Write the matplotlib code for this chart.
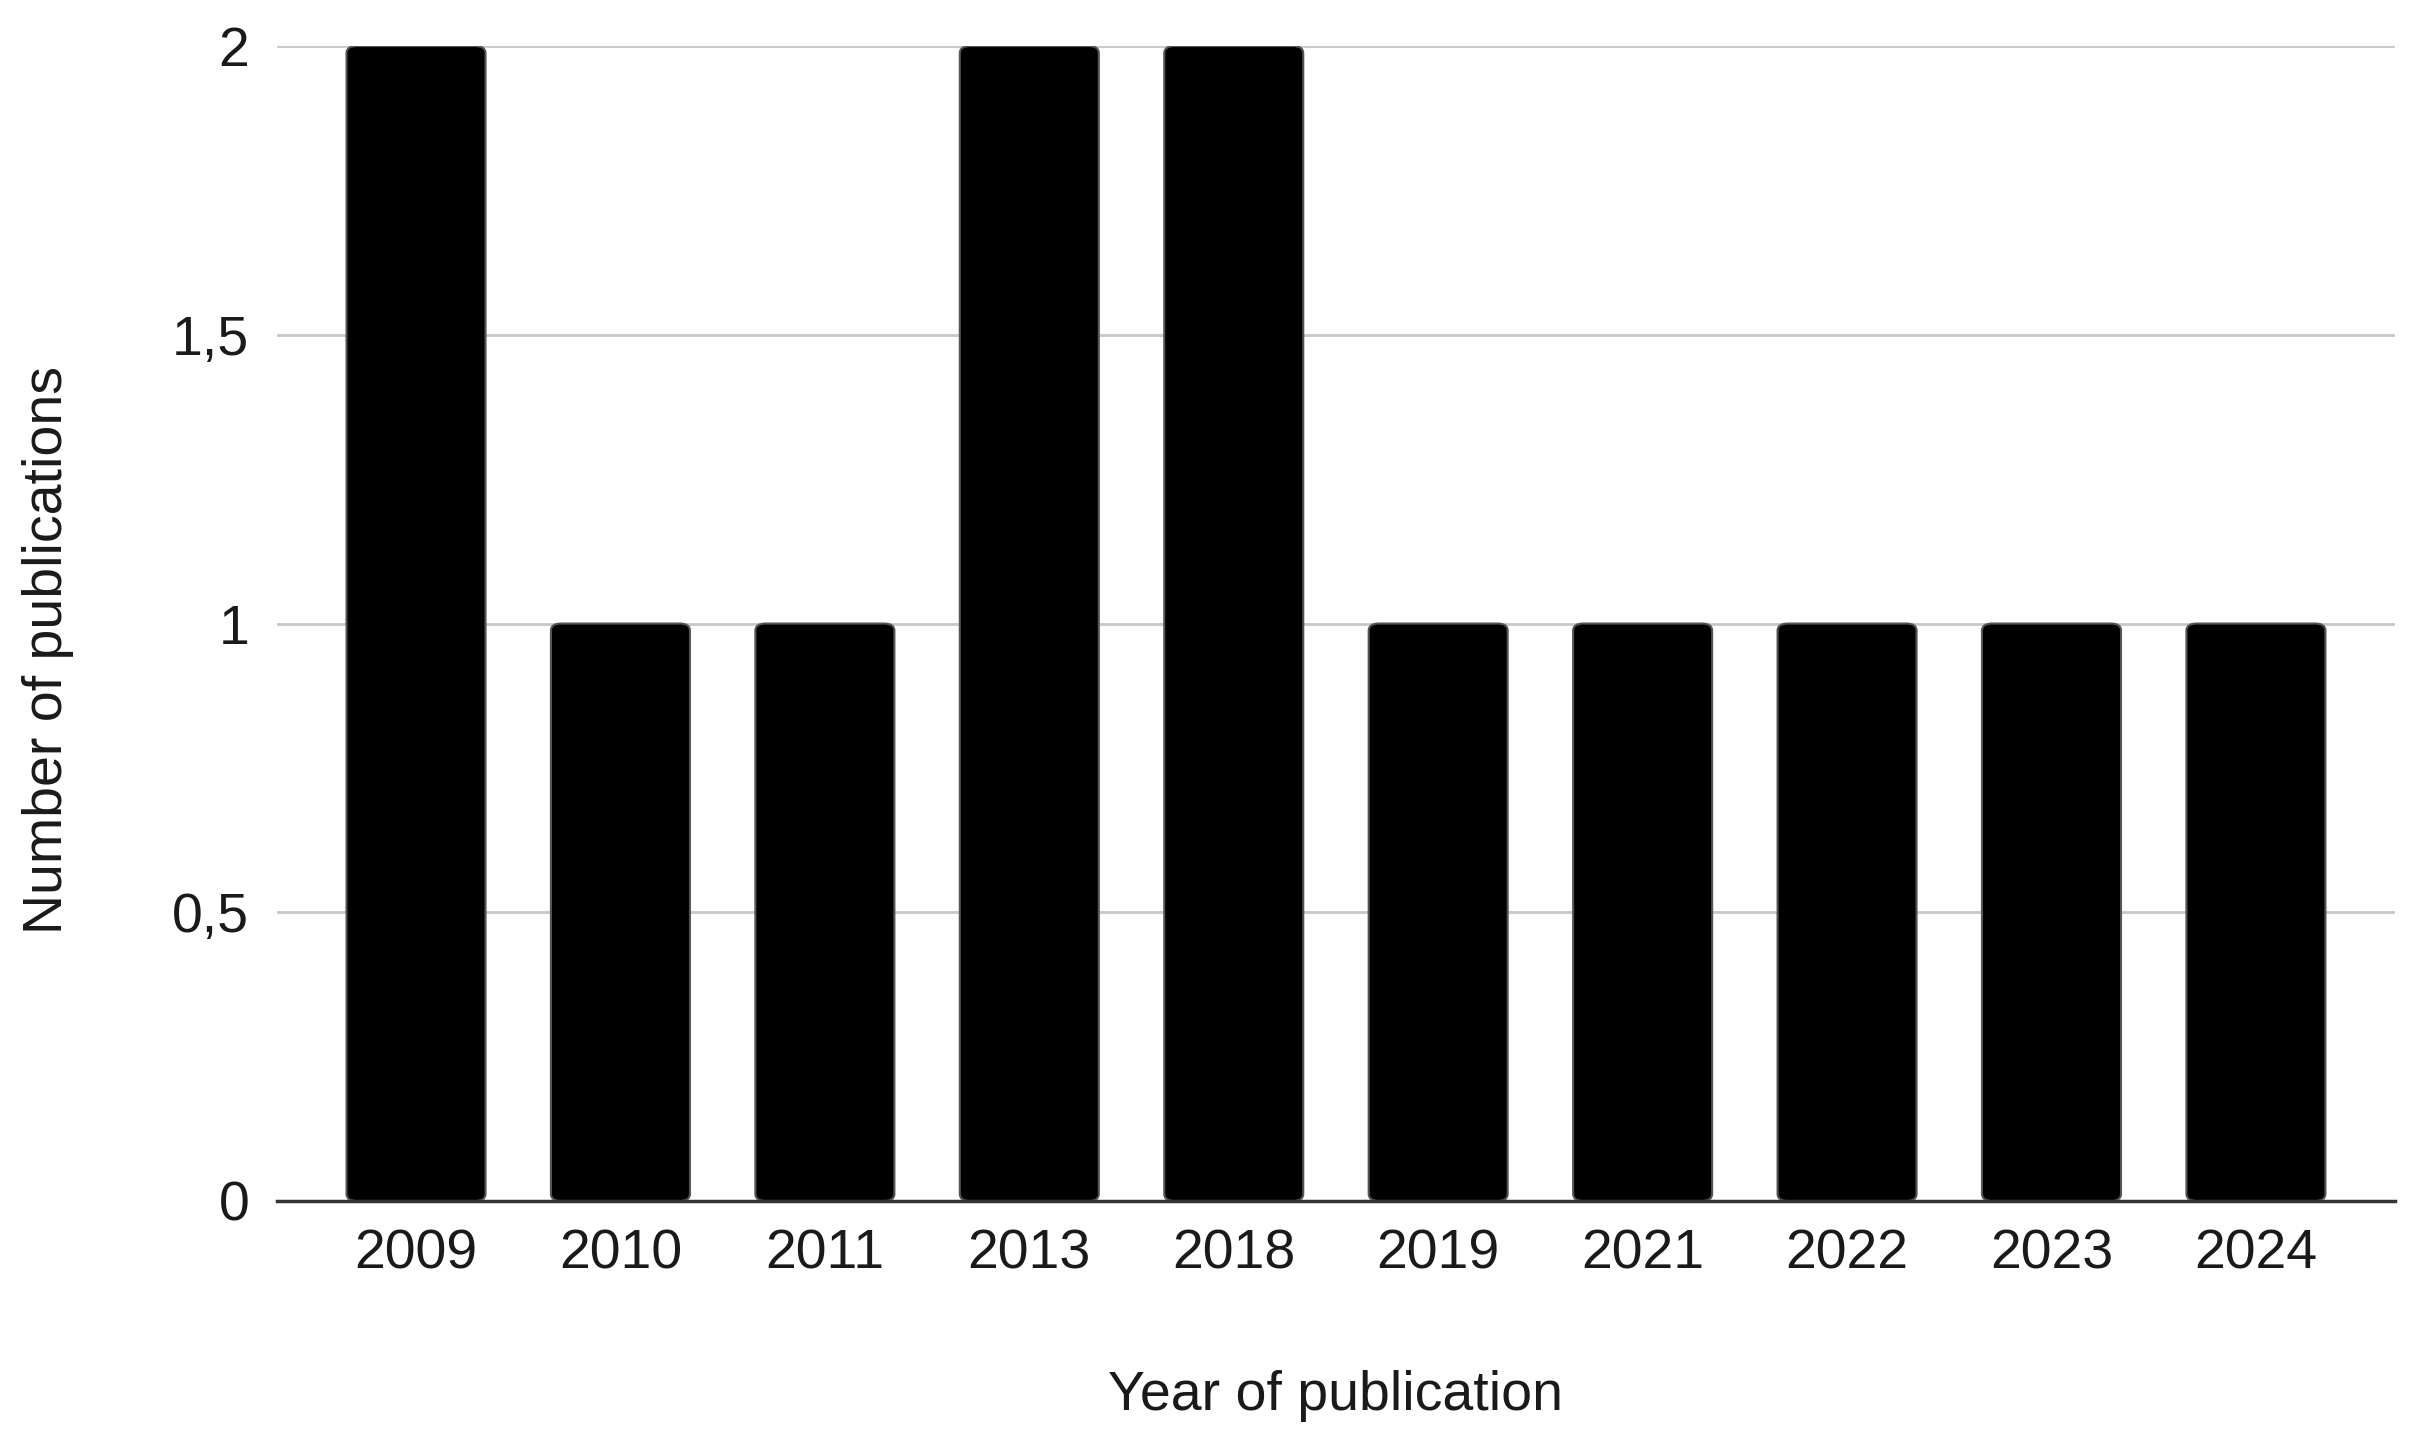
import matplotlib
matplotlib.use("Agg")
import matplotlib.pyplot as plt
from matplotlib.patches import FancyBboxPatch

# data
years = ["2009", "2010", "2011", "2013", "2018", "2019", "2021", "2022", "2023", "2024"]
counts = [2, 1, 1, 2, 2, 1, 1, 1, 1, 1]
ytick_vals = [0, 0.5, 1, 1.5, 2]
ytick_labels = ["0", "0,5", "1", "1,5", "2"]

plt.rcParams["font.family"] = ["Liberation Sans", "DejaVu Sans"]

fig = plt.figure(figsize=(24.15, 14.48), dpi=100)
ax = fig.add_axes([0.1147, 0.1706, 0.877, 0.7976])

x = range(len(years))
bars = ax.bar(x, counts, width=0.68, color="black", edgecolor="#555555", linewidth=1.5, zorder=3)

# rounded top corners
for b in bars:
    b.set_visible(False)
    r = FancyBboxPatch((b.get_x(), 0), b.get_width(), b.get_height(),
                       boxstyle="round,pad=0,rounding_size=0.05",
                       mutation_aspect=0.24,
                       facecolor="black", edgecolor="#555555", linewidth=1.5, zorder=3)
    ax.add_patch(r)

ax.set_xlim(-0.68, len(years) - 1 + 0.68)
ax.set_ylim(0, 2)
ax.set_xticks(list(x))
ax.set_xticklabels(years)
ax.set_yticks(ytick_vals)
ax.set_yticklabels(ytick_labels)
ax.tick_params(axis="both", length=0, labelsize=40, colors="#1a1a1a")
ax.tick_params(axis="y", pad=20)
ax.tick_params(axis="x", pad=20)

for s in ["top", "right", "left"]:
    ax.spines[s].set_visible(False)
ax.spines["bottom"].set_color("#333333")
ax.spines["bottom"].set_linewidth(2.5)
ax.spines["bottom"].set_zorder(4)

ax.yaxis.grid(True, color="#c8c8c8", linewidth=2, zorder=0)
ax.set_axisbelow(True)

ax.set_xlabel("Year of publication", fontsize=40, color="#1a1a1a")
ax.set_ylabel("Number of publications", fontsize=40, color="#1a1a1a")
ax.xaxis.set_label_coords(0.5, -0.169)
ax.yaxis.set_label_coords(-0.108, 0.477)
ax.xaxis.label.set_va("center")
ax.yaxis.label.set_va("center")

fig.savefig("out.png", dpi=100)
